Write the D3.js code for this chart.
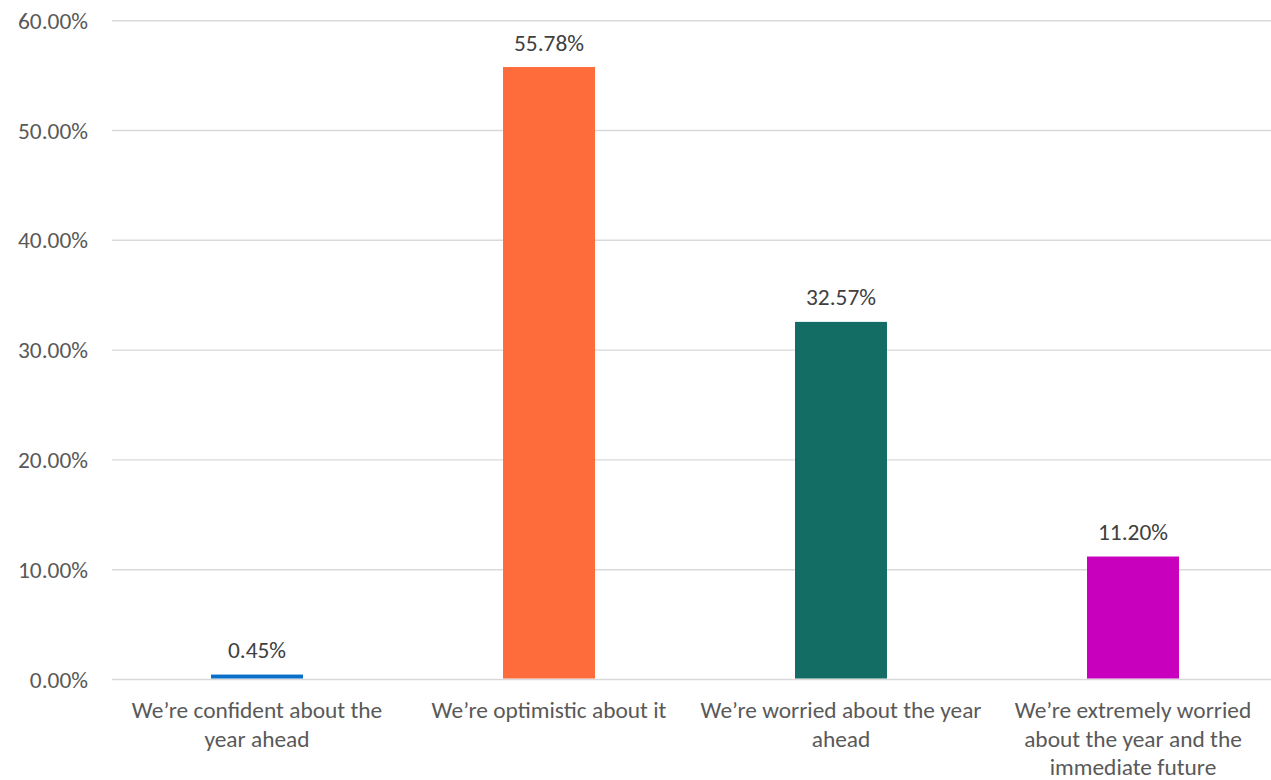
<!DOCTYPE html>
<html>
<head>
<meta charset="utf-8">
<script src="https://cdn.jsdelivr.net/npm/d3@7"></script>
<style>
  html, body { margin: 0; padding: 0; background: #fff; }
  svg { display: block; font-family: Carlito, "Liberation Sans", sans-serif; }
</style>
</head>
<body>
<svg id="chart" width="1271" height="780"></svg>
<script>
const categories = [
  "We\u2019re confident about the year ahead",
  "We\u2019re optimistic about it",
  "We\u2019re worried about the year ahead",
  "We\u2019re extremely worried about the year and the immediate future"
];
const values = [0.45, 55.78, 32.57, 11.20];
const colors = ["#0A6FC8", "#FF6C3C", "#136D65", "#C800BE"];
const yTicks = [0, 10, 20, 30, 40, 50, 60];

const svg = d3.select("#chart");
const W = 1271, H = 780;
const FS = 23.4;
const x = d3.scaleBand().domain(categories).range([111, 1279]).paddingInner(0.685).paddingOuter(0.3425);
const y = d3.scaleLinear().domain([0, 60]).range([679.5, 20.7]);

// gridlines
svg.append("g").selectAll("line").data(yTicks).join("line")
  .attr("x1", 112).attr("x2", W)
  .attr("y1", d => y(d)).attr("y2", d => y(d))
  .attr("stroke", "#D9D9D9").attr("stroke-width", 1.4);

// y axis labels
const yAxis = d3.axisLeft(y).tickValues(yTicks).tickSize(0).tickPadding(0)
  .tickFormat(d => d.toFixed(2) + "%");
const gy = svg.append("g").attr("transform", "translate(88,0)").call(yAxis);
gy.attr("font-family", null).attr("font-size", null);
gy.select(".domain").remove();
gy.selectAll("text").attr("fill", "#595959").attr("font-size", FS).attr("dy", "0.32em");

// bars
svg.append("g").selectAll("rect").data(values).join("rect")
  .attr("x", (d, i) => x(categories[i]))
  .attr("width", x.bandwidth())
  .attr("y", d => y(d))
  .attr("height", d => y(0) - y(d) - 1)
  .attr("fill", (d, i) => colors[i]);

// data labels
svg.append("g").selectAll("text").data(values).join("text")
  .attr("x", (d, i) => x(categories[i]) + x.bandwidth() / 2)
  .attr("y", d => y(d) - 16.5)
  .attr("text-anchor", "middle")
  .attr("fill", "#404040").attr("font-size", FS)
  .text(d => d.toFixed(2) + "%");

// x axis labels with wrapping
const xAxis = d3.axisBottom(x).tickSize(0).tickPadding(0);
const gx = svg.append("g").attr("transform", "translate(0,680)").call(xAxis);
gx.attr("font-family", null).attr("font-size", null);
gx.select(".domain").remove();
gx.selectAll("text").attr("fill", "#595959").attr("font-size", FS)
  .each(function(d) {
    const t = d3.select(this);
    const words = d.split(" ");
    t.text(null);
    const maxW = 286;
    let lines = [], line = [];
    const probe = t.append("tspan");
    words.forEach(w => {
      line.push(w);
      probe.text(line.join(" "));
      if (probe.node().getComputedTextLength() > maxW && line.length > 1) {
        line.pop();
        lines.push(line.join(" "));
        line = [w];
      }
    });
    lines.push(line.join(" "));
    probe.remove();
    t.attr("y", 0).attr("dy", null);
    lines.forEach((l, i) => {
      t.append("tspan").attr("x", 0).attr("y", 38 + i * 28.5).text(l);
    });
  });
</script>
</body>
</html>
